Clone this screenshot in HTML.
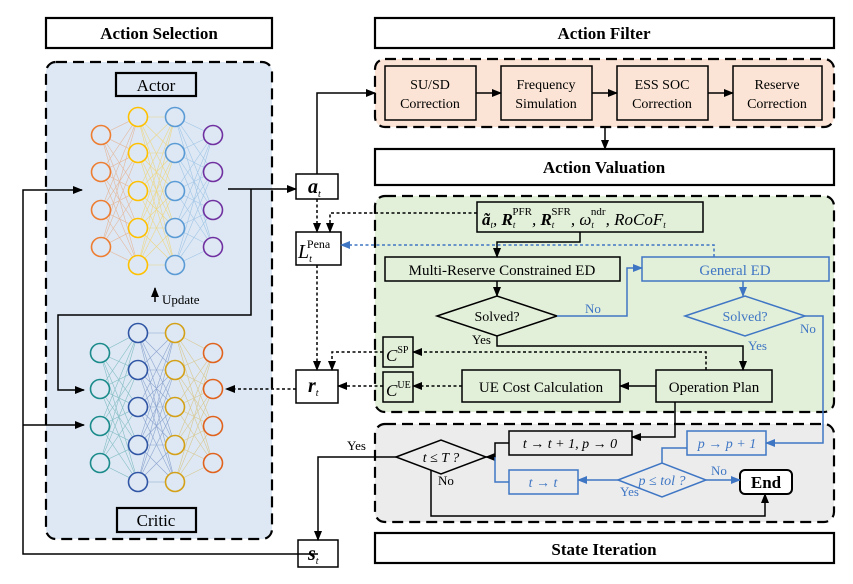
<!DOCTYPE html>
<html><head><meta charset="utf-8"><style>
html,body{margin:0;padding:0;background:#fff;}
svg{display:block;font-family:"Liberation Serif",serif;}
</style></head><body>
<svg width="853" height="584" viewBox="0 0 853 584" xmlns="http://www.w3.org/2000/svg">
<defs>
<marker id="ak" markerWidth="10" markerHeight="8" refX="9" refY="4" orient="auto" markerUnits="userSpaceOnUse"><path d="M0,0 L10,4 L0,8 z" fill="#000"/></marker>
<marker id="ab" markerWidth="10" markerHeight="8" refX="9" refY="4" orient="auto" markerUnits="userSpaceOnUse"><path d="M0,0 L10,4 L0,8 z" fill="#3f76c4"/></marker>
</defs>
<!-- headers -->
<g fill="#fff" stroke="#000" stroke-width="2.2">
<rect x="46" y="18" width="226" height="30"/>
<rect x="375" y="18" width="459" height="30"/>
<rect x="375" y="149" width="459" height="36"/>
<rect x="375" y="533" width="459" height="30"/>
</g>
<g font-weight="bold" font-size="17" text-anchor="middle">
<text x="159" y="39">Action Selection</text>
<text x="604" y="39">Action Filter</text>
<text x="604" y="173">Action Valuation</text>
<text x="604" y="555">State Iteration</text>
</g>
<!-- panels -->
<g stroke="#000" stroke-width="2.2" stroke-dasharray="11,6">
<rect x="46" y="62" width="226" height="477" rx="10" fill="#dde8f4"/>
<rect x="375" y="59" width="459" height="68" rx="10" fill="#fbe4d5"/>
<rect x="375" y="196" width="459" height="216" rx="10" fill="#e2efd9"/>
<rect x="375" y="424" width="459" height="98" rx="10" fill="#ececec"/>
</g>
<!-- actor/critic labels -->
<rect x="116" y="73" width="80" height="23" fill="#dde8f4" stroke="#000" stroke-width="2.2"/>
<text x="156" y="91" font-size="17" text-anchor="middle">Actor</text>
<rect x="117" y="508" width="79" height="24" fill="#dde8f4" stroke="#000" stroke-width="2.2"/>
<text x="156" y="526" font-size="17" text-anchor="middle">Critic</text>
<!-- actor NN -->
<g fill="none" stroke-width="0.6" opacity="0.45">
<path stroke="#ed7d31" d="M101 135L138 117M101 135L138 153M101 135L138 191M101 135L138 228M101 135L138 265M101 172L138 117M101 172L138 153M101 172L138 191M101 172L138 228M101 172L138 265M101 210L138 117M101 210L138 153M101 210L138 191M101 210L138 228M101 210L138 265M101 247L138 117M101 247L138 153M101 247L138 191M101 247L138 228M101 247L138 265"/>
<path stroke="#ffc000" d="M138 117L175 117M138 117L175 153M138 117L175 191M138 117L175 228M138 117L175 265M138 153L175 117M138 153L175 153M138 153L175 191M138 153L175 228M138 153L175 265M138 191L175 117M138 191L175 153M138 191L175 191M138 191L175 228M138 191L175 265M138 228L175 117M138 228L175 153M138 228L175 191M138 228L175 228M138 228L175 265M138 265L175 117M138 265L175 153M138 265L175 191M138 265L175 228M138 265L175 265"/>
<path stroke="#5b9bd5" d="M175 117L213 135M175 117L213 172M175 117L213 210M175 117L213 247M175 153L213 135M175 153L213 172M175 153L213 210M175 153L213 247M175 191L213 135M175 191L213 172M175 191L213 210M175 191L213 247M175 228L213 135M175 228L213 172M175 228L213 210M175 228L213 247M175 265L213 135M175 265L213 172M175 265L213 210M175 265L213 247"/>
<!-- critic NN -->
<path stroke="#1a8a8a" d="M100 353L138 333M100 353L138 370M100 353L138 407M100 353L138 445M100 353L138 482M100 389L138 333M100 389L138 370M100 389L138 407M100 389L138 445M100 389L138 482M100 426L138 333M100 426L138 370M100 426L138 407M100 426L138 445M100 426L138 482M100 463L138 333M100 463L138 370M100 463L138 407M100 463L138 445M100 463L138 482"/>
<path stroke="#2f55a4" d="M138 333L175 333M138 333L175 370M138 333L175 407M138 333L175 445M138 333L175 482M138 370L175 333M138 370L175 370M138 370L175 407M138 370L175 445M138 370L175 482M138 407L175 333M138 407L175 370M138 407L175 407M138 407L175 445M138 407L175 482M138 445L175 333M138 445L175 370M138 445L175 407M138 445L175 445M138 445L175 482M138 482L175 333M138 482L175 370M138 482L175 407M138 482L175 445M138 482L175 482"/>
<path stroke="#d4a017" d="M175 333L213 353M175 333L213 389M175 333L213 426M175 333L213 463M175 370L213 353M175 370L213 389M175 370L213 426M175 370L213 463M175 407L213 353M175 407L213 389M175 407L213 426M175 407L213 463M175 445L213 353M175 445L213 389M175 445L213 426M175 445L213 463M175 482L213 353M175 482L213 389M175 482L213 426M175 482L213 463"/>
</g>
<g fill="#dde8f4" stroke-width="1.6">
<g stroke="#ed7d31"><circle cx="101" cy="135" r="9.5"/><circle cx="101" cy="172" r="9.5"/><circle cx="101" cy="210" r="9.5"/><circle cx="101" cy="247" r="9.5"/></g>
<g stroke="#ffc000"><circle cx="138" cy="117" r="9.5"/><circle cx="138" cy="153" r="9.5"/><circle cx="138" cy="191" r="9.5"/><circle cx="138" cy="228" r="9.5"/><circle cx="138" cy="265" r="9.5"/></g>
<g stroke="#5b9bd5"><circle cx="175" cy="117" r="9.5"/><circle cx="175" cy="153" r="9.5"/><circle cx="175" cy="191" r="9.5"/><circle cx="175" cy="228" r="9.5"/><circle cx="175" cy="265" r="9.5"/></g>
<g stroke="#7030a0"><circle cx="213" cy="135" r="9.5"/><circle cx="213" cy="172" r="9.5"/><circle cx="213" cy="210" r="9.5"/><circle cx="213" cy="247" r="9.5"/></g>
<g stroke="#1a8a8a"><circle cx="100" cy="353" r="9.5"/><circle cx="100" cy="389" r="9.5"/><circle cx="100" cy="426" r="9.5"/><circle cx="100" cy="463" r="9.5"/></g>
<g stroke="#2f55a4"><circle cx="138" cy="333" r="9.5"/><circle cx="138" cy="370" r="9.5"/><circle cx="138" cy="407" r="9.5"/><circle cx="138" cy="445" r="9.5"/><circle cx="138" cy="482" r="9.5"/></g>
<g stroke="#d4a017"><circle cx="175" cy="333" r="9.5"/><circle cx="175" cy="370" r="9.5"/><circle cx="175" cy="407" r="9.5"/><circle cx="175" cy="445" r="9.5"/><circle cx="175" cy="482" r="9.5"/></g>
<g stroke="#e0621c"><circle cx="213" cy="353" r="9.5"/><circle cx="213" cy="389" r="9.5"/><circle cx="213" cy="426" r="9.5"/><circle cx="213" cy="463" r="9.5"/></g>
</g>
<!-- filter boxes -->
<g fill="#fbe4d5" stroke="#000" stroke-width="1.5">
<rect x="385" y="66" width="91" height="54"/>
<rect x="501" y="66" width="91" height="54"/>
<rect x="617" y="66" width="91" height="54"/>
<rect x="733" y="66" width="89" height="54"/>
</g>
<g font-size="14" text-anchor="middle">
<text x="430" y="89">SU/SD</text><text x="430" y="108">Correction</text>
<text x="546" y="89">Frequency</text><text x="546" y="108">Simulation</text>
<text x="662" y="89">ESS SOC</text><text x="662" y="108">Correction</text>
<text x="777" y="89">Reserve</text><text x="777" y="108">Correction</text>
</g>
<g stroke="#000" stroke-width="1.5" marker-end="url(#ak)" fill="none">
<line x1="476" y1="93" x2="501" y2="93"/>
<line x1="592" y1="93" x2="617" y2="93"/>
<line x1="708" y1="93" x2="733" y2="93"/>
<line x1="605" y1="127" x2="605" y2="149"/>
</g>
<!-- small var boxes -->
<g fill="#fff" stroke="#000" stroke-width="1.5">
<rect x="296" y="174" width="42" height="25"/>
<rect x="296" y="232" width="45" height="33"/>
<rect x="296" y="370" width="42" height="33"/>
<rect x="298" y="540" width="40" height="27"/>
</g>
<g font-style="italic" font-size="20" font-weight="bold">
<text x="308" y="193">a<tspan font-size="10" dy="4" font-weight="normal">t</tspan></text>
<text x="308" y="392">r<tspan font-size="10" dy="4" font-weight="normal">t</tspan></text>
<text x="308" y="560">s<tspan font-size="10" dy="4" font-weight="normal">t</tspan></text>
</g>
<text x="298" y="258" font-size="20" font-style="italic">L<tspan font-size="10" dy="4">t</tspan><tspan font-size="12" font-style="normal" dx="-5" dy="-14">Pena</tspan></text>
<!-- green panel contents -->
<g fill="#e2efd9" stroke="#000" stroke-width="1.5">
<rect x="477" y="202" width="226" height="30"/>
<rect x="385" y="257" width="235" height="24"/>
<rect x="383" y="337" width="30" height="30"/>
<rect x="383" y="372" width="30" height="30"/>
<rect x="462" y="370" width="158" height="32"/>
<rect x="656" y="370" width="116" height="32"/>
<polygon points="437,316 497,296 557,316 497,336"/>
</g>
<rect x="642" y="257" width="187" height="24" fill="#e2efd9" stroke="#3f76c4" stroke-width="1.5"/>
<polygon points="685,316 745,296 805,316 745,336" fill="#e2efd9" stroke="#3f76c4" stroke-width="1.5"/>
<text x="482" y="225" font-size="17" font-style="italic"><tspan font-weight="bold">ã</tspan><tspan font-size="9" dy="3">t</tspan><tspan dy="-3">, </tspan><tspan font-weight="bold">R</tspan><tspan font-size="9" dy="3">t</tspan><tspan font-size="11" font-style="normal" dx="-3" dy="-13">PFR</tspan><tspan dy="10">, </tspan><tspan font-weight="bold">R</tspan><tspan font-size="9" dy="3">t</tspan><tspan font-size="11" font-style="normal" dx="-3" dy="-13">SFR</tspan><tspan dy="10">, ω</tspan><tspan font-size="9" dy="3">t</tspan><tspan font-size="11" font-style="normal" dx="-3" dy="-13">ndr</tspan><tspan dy="10">, RoCoF</tspan><tspan font-size="9" dy="3">t</tspan></text>
<g font-size="15" text-anchor="middle">
<text x="502" y="275">Multi-Reserve Constrained ED</text>
<text x="735" y="275" fill="#3f76c4">General ED</text>
<text x="497" y="321" font-size="14">Solved?</text>
<text x="745" y="321" font-size="14" fill="#3f76c4">Solved?</text>
<text x="541" y="392">UE Cost Calculation</text>
<text x="714" y="392">Operation Plan</text>
</g>
<text x="386" y="361" font-size="17" font-style="italic">C<tspan font-size="10" font-style="normal" dy="-8">SP</tspan></text>
<text x="386" y="396" font-size="17" font-style="italic">C<tspan font-size="10" font-style="normal" dy="-8">UE</tspan></text>
<g font-size="13">
<text x="585" y="313" fill="#3f76c4">No</text>
<text x="800" y="333" fill="#3f76c4">No</text>
<text x="472" y="344">Yes</text>
<text x="748" y="350" fill="#3f76c4">Yes</text>
<text x="347" y="450">Yes</text>
<text x="438" y="485">No</text>
<text x="620" y="496" fill="#3f76c4">Yes</text>
<text x="711" y="475" fill="#3f76c4">No</text>
</g>
<!-- gray panel contents -->
<rect x="509" y="431" width="123" height="24" fill="#ececec" stroke="#000" stroke-width="1.5"/>
<rect x="687" y="431" width="79" height="24" fill="#ececec" stroke="#3f76c4" stroke-width="1.5"/>
<rect x="509" y="470" width="69" height="24" fill="#ececec" stroke="#3f76c4" stroke-width="1.5"/>
<polygon points="396,457 441,440 486,457 441,474" fill="#ececec" stroke="#000" stroke-width="1.5"/>
<polygon points="618,480 662,463 706,480 662,497" fill="#ececec" stroke="#3f76c4" stroke-width="1.5"/>
<rect x="740" y="470" width="52" height="24" rx="5" fill="#fff" stroke="#000" stroke-width="2"/>
<text x="766" y="488" font-size="17" font-weight="bold" text-anchor="middle">End</text>
<g font-size="14" text-anchor="middle">
<text x="570" y="448" font-style="italic">t → t + 1, p → 0</text>
<text x="727" y="448" font-style="italic" fill="#3f76c4">p → p + 1</text>
<text x="543" y="487" font-style="italic" fill="#3f76c4">t → t</text>
<text x="441" y="462" font-style="italic">t ≤ T ?</text>
<text x="662" y="485" font-style="italic" fill="#3f76c4">p ≤ tol ?</text>
</g>
<!-- solid black connectors -->
<g stroke="#000" stroke-width="1.5" fill="none">
<polyline points="228,189 296,189" marker-end="url(#ak)"/>
<polyline points="317,174 317,93 375,93" marker-end="url(#ak)"/>
<polyline points="251,189 251,315 58,315 58,390 84,390" marker-end="url(#ak)"/>
<polyline points="155,302 155,288" marker-end="url(#ak)"/>
<polyline points="318,554 23,554 23,190 82,190" marker-end="url(#ak)"/>
<polyline points="23,425 84,425" marker-end="url(#ak)"/>
<polyline points="580,232 580,242 497,242 497,257" marker-end="url(#ak)"/>
<polyline points="497,281 497,296" marker-end="url(#ak)"/>
<polyline points="497,336 497,346 743,346 743,370" marker-end="url(#ak)"/>
<polyline points="656,386 620,386" marker-end="url(#ak)"/>
<polyline points="675,402 675,437 632,437" marker-end="url(#ak)"/>
<polyline points="509,443 495,443 495,457 486,457" marker-end="url(#ak)"/>
<polyline points="431,470 431,516 765,516 765,494" marker-end="url(#ak)"/>
<polyline points="396,457 318,457 318,540" marker-end="url(#ak)"/>
</g>
<!-- blue connectors -->
<g stroke="#3f76c4" stroke-width="1.5" fill="none">
<polyline points="557,316 627,316 627,268 642,268" marker-end="url(#ab)"/>
<polyline points="743,281 743,296" marker-end="url(#ab)"/>
<polyline points="805,316 823,316 823,443 766,443" marker-end="url(#ab)"/>
<polyline points="687,448 662,448 662,463"/>
<polyline points="509,482 495,482 495,457"/>
<polyline points="618,480 578,480" marker-end="url(#ab)"/>
<polyline points="706,480 740,480" marker-end="url(#ab)"/>
<polyline points="714,257 714,245 341,245" stroke-dasharray="3,2.5" marker-end="url(#ab)"/>
</g>
<!-- dashed black -->
<g stroke="#000" stroke-width="1.5" fill="none" stroke-dasharray="3,2.5">
<polyline points="317,199 317,232" marker-end="url(#ak)"/>
<polyline points="477,213 330,213 330,232" marker-end="url(#ak)"/>
<polyline points="317,265 317,370" marker-end="url(#ak)"/>
<polyline points="383,352 332,352 332,370" marker-end="url(#ak)"/>
<polyline points="706,370 706,352 413,352" marker-end="url(#ak)"/>
<polyline points="462,386 413,386" marker-end="url(#ak)"/>
<polyline points="383,386 338,386" marker-end="url(#ak)"/>
<polyline points="296,389 226,389" marker-end="url(#ak)"/>
</g>
<text x="162" y="304" font-size="13">Update</text>
</svg>
</body></html>
